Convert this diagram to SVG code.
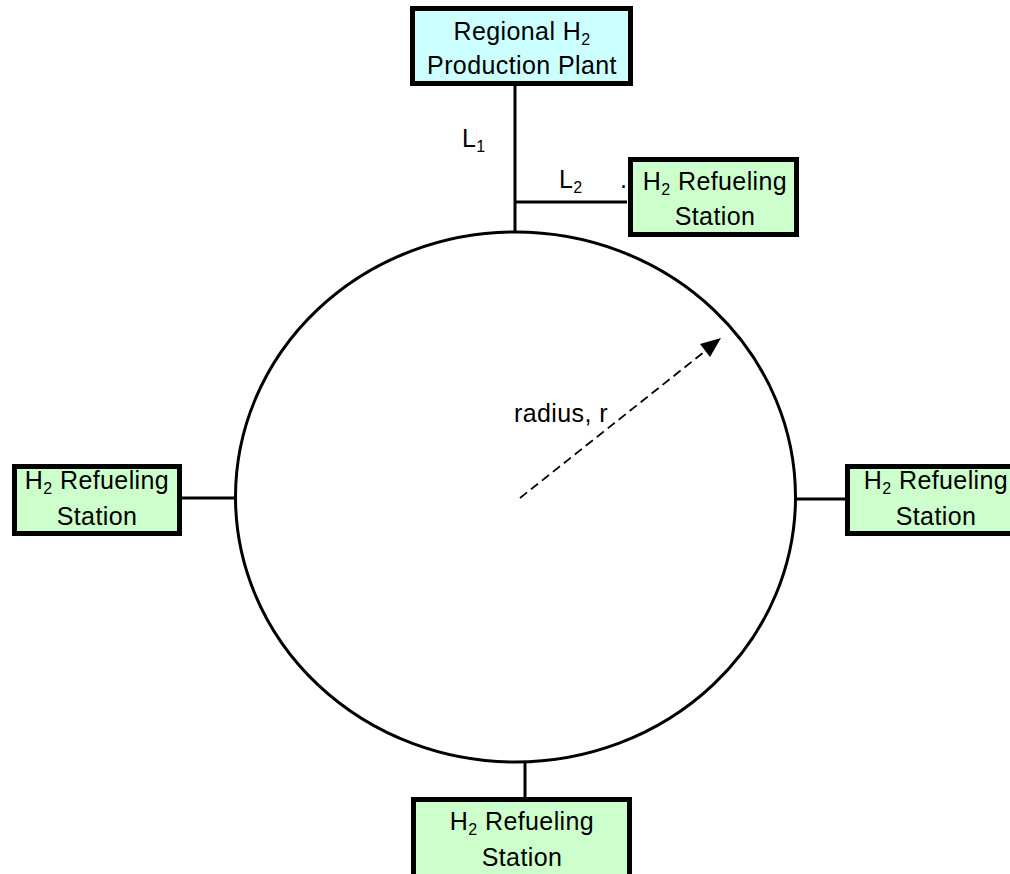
<svg xmlns="http://www.w3.org/2000/svg" width="1010" height="874" viewBox="0 0 1010 874">
<defs>
<style>
.t{font-family:"Liberation Sans",Arial,sans-serif;font-size:25px;fill:#000;letter-spacing:0.4px;}
.c{text-anchor:middle;}
.plant{fill:#CCFFFF;stroke:#000;stroke-width:5;}
.stn{fill:#CCFFCC;stroke:#000;stroke-width:5;}
.ln{stroke:#000;stroke-width:3;fill:none;}
</style>
</defs>
<rect width="1010" height="874" fill="#fff"/>
<g id="connectors">
<ellipse class="ln" cx="515.5" cy="497" rx="280" ry="265"/>
<line class="ln" x1="515" y1="85" x2="515" y2="232"/>
<line class="ln" x1="515" y1="202" x2="627" y2="202"/>
<line class="ln" x1="181" y1="498" x2="236" y2="498"/>
<line class="ln" x1="795" y1="499" x2="846" y2="499"/>
<line class="ln" x1="525" y1="762" x2="525" y2="798"/>
<line x1="520" y1="498" x2="704" y2="352" stroke="#000" stroke-width="1.8" stroke-dasharray="9,5"/>
<path d="M721,338 L700,344 L710,357 Z" fill="#000"/>
</g>
<g id="plant">
<rect class="plant" x="412.5" y="8.5" width="218" height="75"/>
<text class="t c" x="522" y="40">Regional H<tspan font-size="16" dy="5">2</tspan></text>
<text class="t c" x="522" y="74">Production Plant</text>
</g>
<g id="station-top">
<rect class="stn" x="630.5" y="159.5" width="166" height="75"/>
<text class="t c" x="715" y="190">H<tspan font-size="16" dy="5">2</tspan><tspan dy="-5"> Refueling</tspan></text>
<text class="t c" x="715" y="225">Station</text>
</g>
<g id="station-left">
<rect class="stn" x="14.5" y="466.5" width="165" height="67"/>
<text class="t c" x="97" y="489">H<tspan font-size="16" dy="5">2</tspan><tspan dy="-5"> Refueling</tspan></text>
<text class="t c" x="97" y="525">Station</text>
</g>
<g id="station-right">
<rect class="stn" x="847.5" y="466.5" width="175" height="67"/>
<text class="t c" x="936" y="489">H<tspan font-size="16" dy="5">2</tspan><tspan dy="-5"> Refueling</tspan></text>
<text class="t c" x="936" y="525">Station</text>
</g>
<g id="station-bottom">
<rect class="stn" x="413.5" y="799.5" width="216" height="85"/>
<text class="t c" x="522" y="830">H<tspan font-size="16" dy="5">2</tspan><tspan dy="-5"> Refueling</tspan></text>
<text class="t c" x="522" y="866">Station</text>
</g>
<g id="labels">
<text class="t" x="462" y="147">L<tspan font-size="16" dy="5">1</tspan></text>
<text class="t" x="559" y="188">L<tspan font-size="16" dy="5">2</tspan></text>
<text class="t" x="620" y="188">.</text>
<text class="t" x="514" y="422">radius, r</text>
</g>
</svg>
